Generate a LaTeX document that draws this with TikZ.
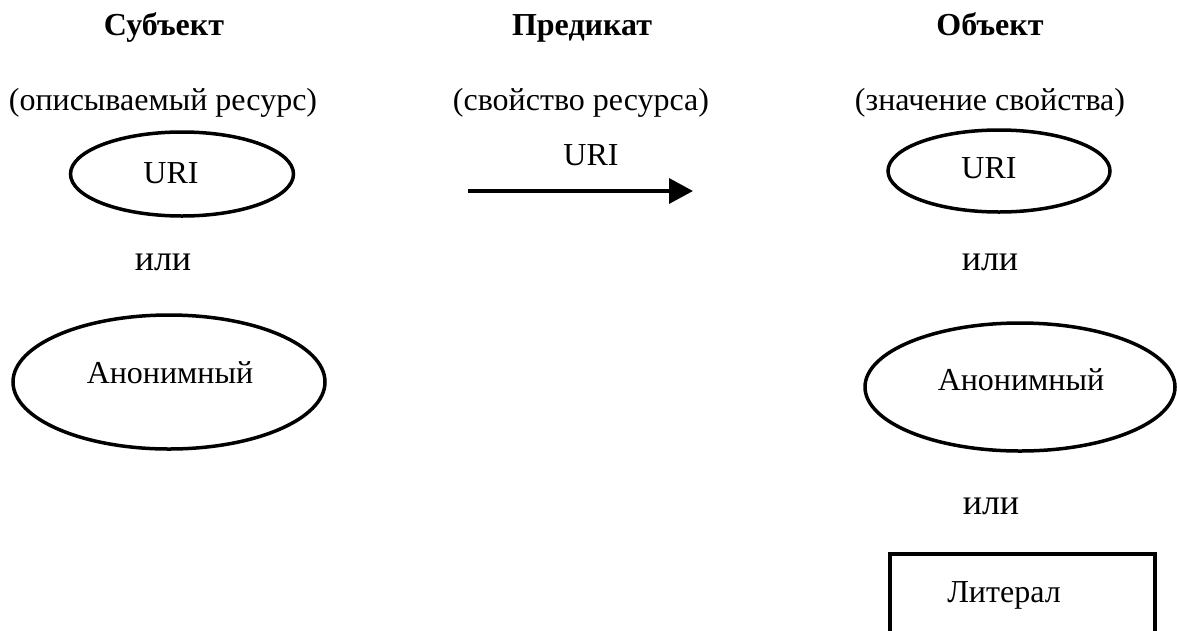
\documentclass[tikz,border=0pt]{standalone}
\usepackage{fontspec}
\setmainfont{Liberation Serif}
\usetikzlibrary{shapes.geometric,arrows.meta}
\begin{document}
\begin{tikzpicture}[x=1pt,y=-1pt,
  lbl/.style={font=\fontsize{32}{38}\selectfont, inner sep=0pt, anchor=base},
  orlbl/.style={font=\fontsize{36}{42}\selectfont, inner sep=0pt, anchor=base},
  hdr/.style={font=\fontsize{32}{38}\selectfont\bfseries, inner sep=0pt, anchor=base},
  oval/.style={draw, ellipse, line width=3.5pt, inner sep=0pt},
  lit/.style={draw, rectangle, line width=3.5pt, inner sep=0pt},
  link/.style={line width=3.5pt, -{Triangle[length=24pt,width=25pt]}}]
\useasboundingbox (0,0) rectangle (1177,630);
\clip (0,0) rectangle (1177,630);
% headers
\node[hdr] (hs) at (164,35) {Субъект};
\node[hdr] (hp) at (582,35) {Предикат};
\node[hdr] (ho) at (990,35) {Объект};
\node[lbl] (ps) at (163,110) {(описываемый ресурс)};
\node[lbl] (pp) at (581,110) {(свойство ресурса)};
\node[lbl] (po) at (990,110) {(значение свойства)};
% subject
\node[oval, minimum width=223pt, minimum height=84pt] (suri) at (182,174) {};
\node[lbl] (surit) at (171,183) {URI};
\node[orlbl] (sor) at (163,270) {или};
\node[oval, minimum width=312pt, minimum height=134pt] (sanon) at (169,382) {};
\node[lbl] (sanont) at (170,383) {Анонимный};
% predicate
\coordinate (pa) at (468,191);
\coordinate (pb) at (693,191);
\draw[link] (pa) -- (pb);
\node[lbl] (purit) at (591,165) {URI};
% object
\node[oval, minimum width=222pt, minimum height=82pt] (ouri) at (999,171) {};
\node[lbl] (ourit) at (989,178) {URI};
\node[orlbl] (oor1) at (990,270) {или};
\node[oval, minimum width=310pt, minimum height=128pt] (oanon) at (1020,387) {};
\node[lbl] (oanont) at (1021,390) {Анонимный};
\node[orlbl] (oor2) at (991,514) {или};
\node[lit, minimum width=265pt, minimum height=100pt, anchor=north west] (olit) at (888,552) {};
\node[lbl] (olitt) at (1004,602) {Литерал};
\end{tikzpicture}
\end{document}
